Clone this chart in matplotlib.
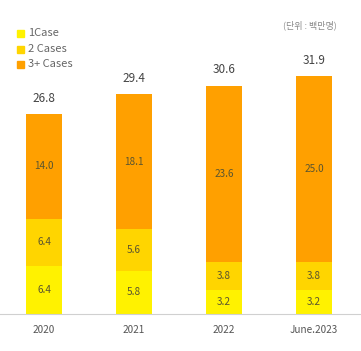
import matplotlib
matplotlib.use("Agg")
import matplotlib.pyplot as plt
import numpy as np

categories = ["2020", "2021", "2022", "June.2023"]
case1 = [6.4, 5.8, 3.2, 3.2]
case2 = [6.4, 5.6, 3.8, 3.8]
case3 = [14.0, 18.1, 23.6, 25.0]
totals = [26.8, 29.4, 30.6, 31.9]
series_names = ["1Case", "2 Cases", "3+ Cases"]
colors = ["#FFF200", "#FFD500", "#FFA000"]
unit_label = "(단위 : 백만명)"

plt.rcParams['font.family'] = ['Noto Sans CJK KR', 'DejaVu Sans']

W, H = 361, 351
fig = plt.figure(figsize=(W/100, H/100), dpi=100)
base_px = 314
ax = fig.add_axes([0, (H - base_px)/H, 1, base_px/H])
ppu = 7.45
ax.set_ylim(0, base_px/ppu)
ax.set_xlim(-44/90, (W-44)/90)

x = np.arange(len(categories))
bottom = np.zeros(len(categories))
for vals, col, name in zip([case1, case2, case3], colors, series_names):
    vals = np.array(vals)
    ax.bar(x, vals, bottom=bottom, width=0.4, color=col, label=name, linewidth=0)
    for xi, b, v in zip(x, bottom, vals):
        ax.text(xi, b + v/2, f"{v:.1f}", ha='center', va='center', fontsize=7.2,
                color='#5a5530', fontweight='light')
    bottom += vals

for xi, t in zip(x, totals):
    ax.text(xi, t + 1.3, f"{t:.1f}", ha='center', va='bottom', fontsize=8.5,
            color='#444444', fontweight='light')

for spine in ['top', 'right', 'left']:
    ax.spines[spine].set_visible(False)
ax.spines['bottom'].set_color('#d0d0d0')
ax.spines['bottom'].set_linewidth(0.8)
ax.set_yticks([])
ax.set_xticks(x)
ax.set_xticklabels(categories, fontsize=7.2, color='#555555', fontweight='light')
ax.tick_params(axis='x', length=0, pad=8)

# legend
leg_y = [33, 49, 64]
for name, col, yy in zip(series_names, colors, leg_y):
    fig.patches.append(plt.Rectangle((17/W, 1 - (yy+3.5)/H), 7/W, 7/H, color=col,
                                     transform=fig.transFigure, figure=fig))
    fig.text(28/W, 1 - yy/H, name, ha='left', va='center', fontsize=8,
             color='#666666', fontweight='light')

fig.text(310/W, 1 - 25/H, unit_label, ha='center', va='center', fontsize=6.5,
         color='#888888', fontweight='light')

fig.savefig("out.png", dpi=100)
